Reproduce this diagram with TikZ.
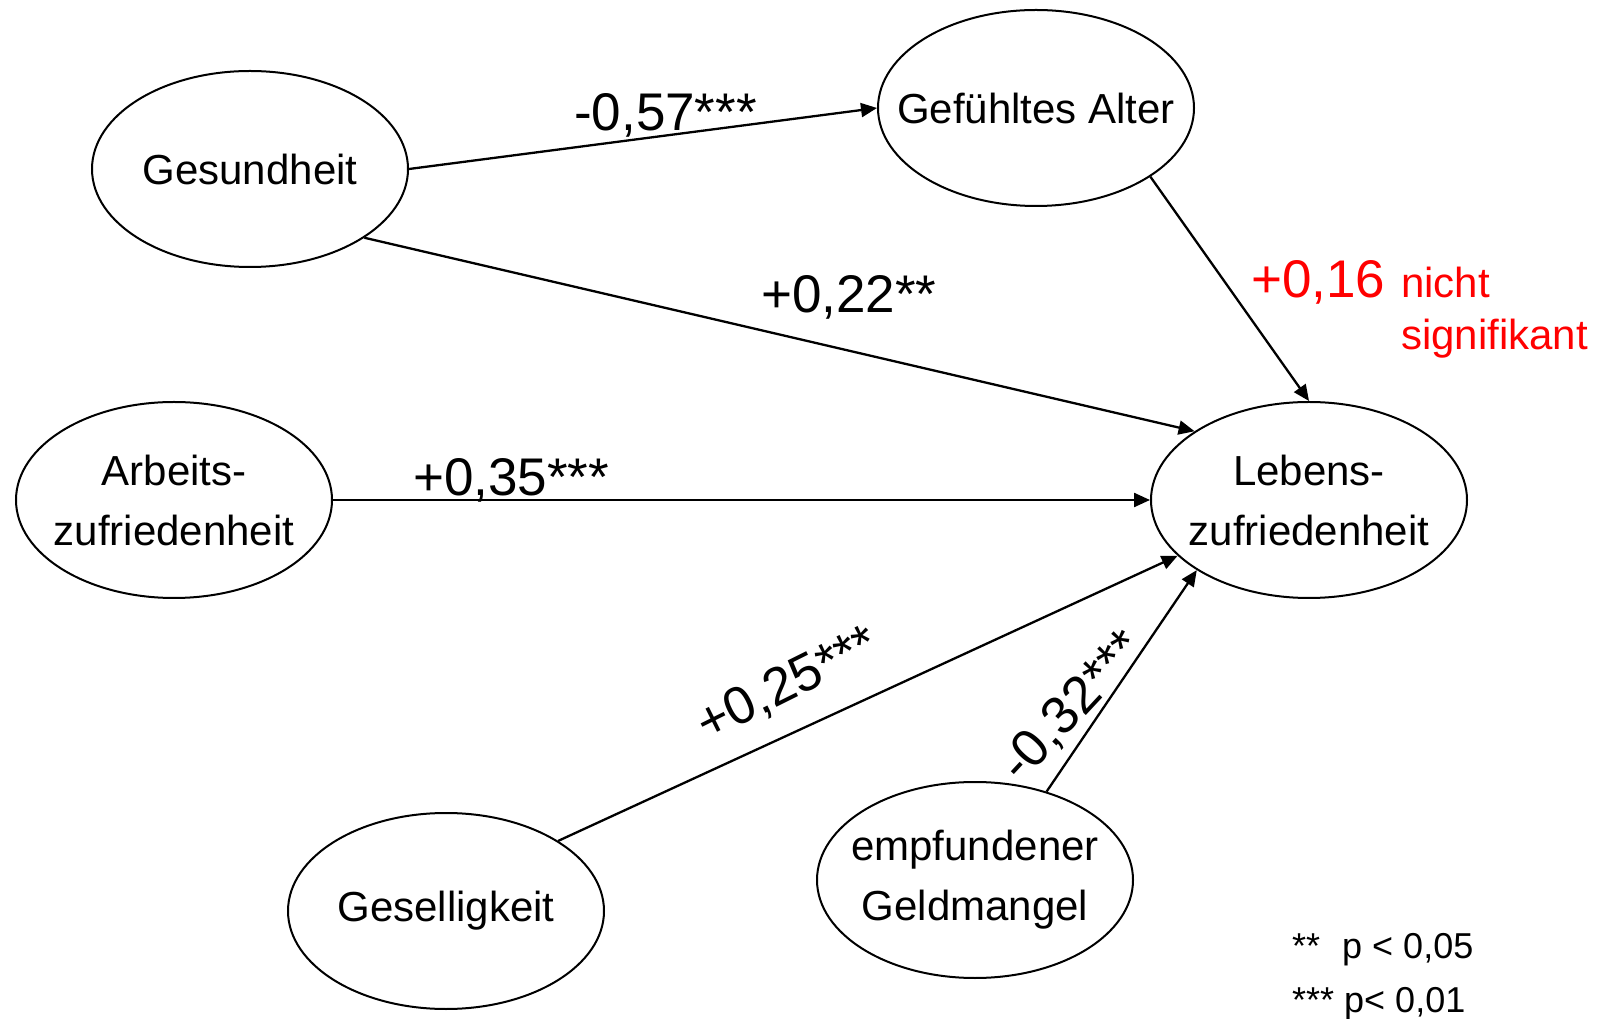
\documentclass[tikz,border=0pt]{standalone}
\usepackage{fontspec}
\setmainfont{Liberation Sans}
\usetikzlibrary{arrows.meta,shapes.geometric}
\tikzset{
  ell/.style={draw, ellipse, line width=2pt, minimum width=316pt, minimum height=196pt, inner sep=0pt},
  etxt/.style={font=\fontsize{42}{60}\selectfont, align=center, inner sep=0pt},
  coef/.style={font=\fontsize{53}{60}\selectfont, inner sep=0pt},
  conn/.style={line width=2.3pt, -{Triangle[length=16pt,width=14pt]}},
  legend/.style={font=\fontsize{36}{44}\selectfont, inner sep=0pt, anchor=base west}
}
\begin{document}
\begin{tikzpicture}[x=1pt,y=1pt]
\useasboundingbox (0,0) rectangle (1598,1018);
\node[ell] (ges) at (250,849) {};
\node[etxt] (gest) at (ges) {Gesundheit};
\node[ell] (alt) at (1036,910) {};
\node[etxt] (altt) at (alt) {Gefühltes Alter};
\node[ell] (arb) at (174,518) {};
\node[etxt] (arbt) at (arb) {Arbeits-\\zufriedenheit};
\node[ell] (leb) at (1309,518) {};
\node[etxt] (lebt) at (leb) {Lebens-\\zufriedenheit};
\node[ell] (gesel) at (446,107) {};
\node[etxt] (geselt) at (gesel) {Geselligkeit};
\node[ell] (geld) at (975,138) {};
\node[etxt] (geldt) at (geld) {empfundener\\Geldmangel};

\draw[conn] (ges.east) -- (alt.west);
\draw[conn] (ges.-31.2) -- (leb.149.1);
\draw[conn] (alt.-31.2) -- (leb.north);
\draw[conn] (arb.east) -- (leb.west);
\draw[conn] (gesel.32.4) -- (leb.203.4);
\draw[conn] (geld.51) -- (leb.212.4);

\node[coef, anchor=base west] (c1) at (574,887.5) {-0,57***};
\node[coef, anchor=base west] (c2) at (761,705) {+0,22**};
\node[coef, anchor=base west] (c3) at (413,522) {+0,35***};
\node[coef, anchor=base west, text=red] (c4) at (1251,720.4) {+0,16};
\node[legend, font=\fontsize{42}{53}\selectfont, text=red] (ns1) at (1401,720.4) {nicht};
\node[legend, font=\fontsize{42}{53}\selectfont, text=red] (ns2) at (1401,668) {signifikant};
\node[coef, rotate=26.5] (c5) at (788,333) {+0,25***};
\node[coef, rotate=47] (c6) at (1073,311) {-0,32***};

\node[legend] (l1) at (1292,60) {**\hspace{22pt}p < 0,05};
\node[legend] (l2) at (1292,6) {*** p< 0,01};
\end{tikzpicture}
\end{document}
